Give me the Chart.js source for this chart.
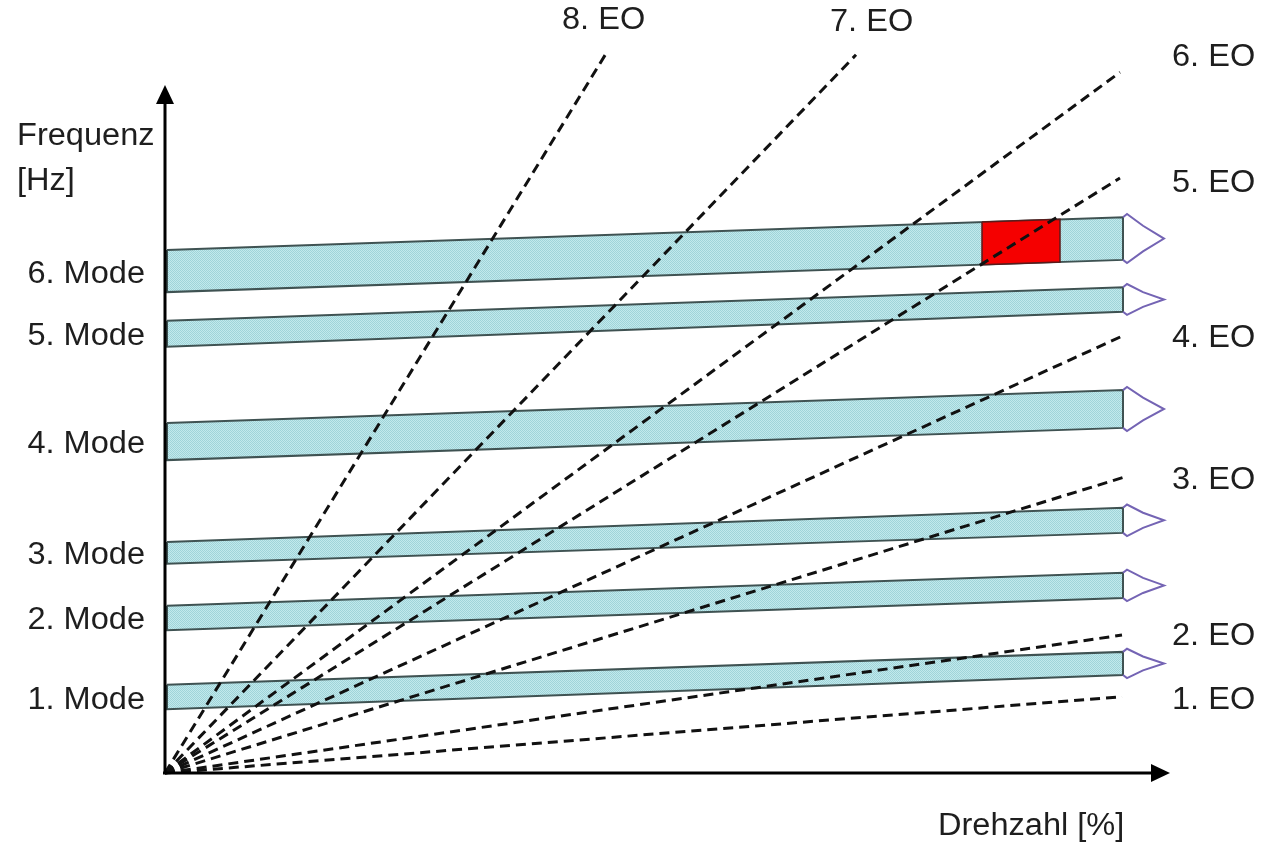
<!DOCTYPE html>
<html>
<head>
<meta charset="utf-8">
<script src="https://cdn.jsdelivr.net/npm/chart.js@4.4.0/dist/chart.umd.min.js"></script>
<style>
html, body { margin: 0; padding: 0; background: #fff; }
#wrap { width: 1262px; height: 842px; }
</style>
</head>
<body>
<div id="wrap"><canvas id="campbell" width="1262" height="842"></canvas></div>
<script>
// Eigenmoden (Bänder): Frequenz am Anfang und am Ende des Drehzahlbereichs
const modeNames = ['1. Mode', '2. Mode', '3. Mode', '4. Mode', '5. Mode', '6. Mode'];
const modeTopStart = [12.6, 23.9, 33.0, 50.0, 64.6, 74.7];
const modeTopEnd   = [17.3, 28.6, 37.9, 54.7, 69.4, 79.4];
const modeBotStart = [9.1, 20.4, 29.9, 44.7, 60.9, 68.7];
const modeBotEnd   = [14.0, 25.0, 34.3, 49.3, 65.9, 73.3];
const modeStartX = 0.2;
const modeEndX = 95.8;
const arrowTipX = 99.9;

// Erregerordnungen: Geraden vom Ursprung bis zum Endpunkt
const eoNames = ['1. EO', '2. EO', '3. EO', '4. EO', '5. EO', '6. EO', '7. EO', '8. EO'];
const eoEndX = [95.7, 95.7, 96.0, 96.0, 95.5, 95.5, 69.1, 44.2];
const eoEndY = [10.9, 19.7, 42.3, 62.6, 85.0, 100.1, 102.6, 103.0];

// Resonanzstelle (rot markiert)
const hotX = [81.7, 89.5];
const hotTop = [78.7, 79.1];
const hotBot = [72.6, 73.0];

// Achsen
const xMax = 100.5;
const yMax = 105;
const yArrowTop = 98.3;

// Beschriftungspositionen der EO (Pixel)
const eoLabelPos = [[1172, 700], [1172, 636], [1172, 480], [1172, 338], [1172, 183], [1172, 57], [830, 22], [562, 20]];

const FONT = '31px "Liberation Sans", Arial, sans-serif';
const TEXT = '#1e1e1e';
const STRETCH = 1.05;

// Punktraster für die Bänder
function makePattern() {
    const c = document.createElement('canvas');
    c.width = 2;
    c.height = 2;
    const g = c.getContext('2d');
    g.fillStyle = '#c2e9ec';
    g.fillRect(0, 0, 2, 2);
    g.fillStyle = '#9fd4d9';
    g.fillRect(0, 0, 1, 1);
    g.fillRect(1, 1, 1, 1);
    return g.createPattern(c, 'repeat');
}
const bandFill = makePattern();

const datasets = [];

// EO Linien (oben)
eoNames.forEach((name, i) => {
    datasets.push({
        label: name,
        data: [{ x: 0, y: 0 }, { x: eoEndX[i], y: eoEndY[i] }],
        borderColor: '#111',
        borderWidth: 3,
        borderDash: [10, 6],
        fill: false,
        order: 0
    });
});

// rotes Feld
datasets.push({
    label: 'Resonanz',
    data: [
        { x: hotX[0], y: hotTop[0] },
        { x: hotX[1], y: hotTop[1] },
        { x: hotX[1], y: hotBot[1] },
        { x: hotX[0], y: hotBot[0] },
        { x: hotX[0], y: hotTop[0] }
    ],
    borderColor: '#5a1a1a',
    borderWidth: 1.5,
    backgroundColor: '#f50000',
    fill: 'shape',
    order: 1
});

// Pfeilspitzen und Bänder
modeNames.forEach((name, i) => {
    const top = modeTopEnd[i];
    const bot = modeBotEnd[i];
    const mid = (top + bot) / 2;
    datasets.push({
        label: name + ' Pfeil',
        data: [
            { x: modeEndX, y: top },
            { x: modeEndX + 0.4, y: top + 0.45 },
            { x: modeEndX + 2.0, y: top - 0.4 * (top - mid) },
            { x: arrowTipX, y: mid },
            { x: modeEndX + 2.0, y: bot + 0.4 * (mid - bot) },
            { x: modeEndX + 0.4, y: bot - 0.45 },
            { x: modeEndX, y: bot }
        ],
        borderColor: '#7464b4',
        borderWidth: 2,
        fill: false,
        order: 2
    });
    datasets.push({
        label: name,
        data: [
            { x: modeStartX, y: modeTopStart[i] },
            { x: modeEndX, y: modeTopEnd[i] },
            { x: modeEndX, y: modeBotEnd[i] },
            { x: modeStartX, y: modeBotStart[i] },
            { x: modeStartX, y: modeTopStart[i] }
        ],
        borderColor: '#3f5252',
        borderWidth: 2,
        backgroundColor: bandFill,
        fill: 'shape',
        order: 3
    });
});

function drawText(ctx, text, x, y, align) {
    ctx.save();
    ctx.translate(x, y);
    ctx.scale(STRETCH, 1);
    ctx.textAlign = align;
    ctx.fillText(text, 0, 0);
    ctx.restore();
}

// Achsen mit Pfeilen und Texte
const decorPlugin = {
    id: 'decor',
    afterDatasetsDraw(chart) {
        const ctx = chart.ctx;
        const xs = chart.scales.x;
        const ys = chart.scales.y;
        const x0 = xs.getPixelForValue(0);
        const y0 = ys.getPixelForValue(0);
        const xEnd = xs.getPixelForValue(xMax);
        const yEnd = ys.getPixelForValue(yArrowTop);

        ctx.save();
        ctx.strokeStyle = '#000';
        ctx.fillStyle = '#000';
        ctx.lineWidth = 3;
        ctx.beginPath();
        ctx.moveTo(x0, y0 + 1);
        ctx.lineTo(x0, yEnd + 14);
        ctx.moveTo(x0 - 2, y0);
        ctx.lineTo(xEnd - 14, y0);
        ctx.stroke();

        ctx.beginPath();
        ctx.moveTo(x0, yEnd);
        ctx.lineTo(x0 - 9, yEnd + 19);
        ctx.lineTo(x0 + 9, yEnd + 19);
        ctx.closePath();
        ctx.fill();

        ctx.beginPath();
        ctx.moveTo(xEnd, y0);
        ctx.lineTo(xEnd - 19, y0 - 9);
        ctx.lineTo(xEnd - 19, y0 + 9);
        ctx.closePath();
        ctx.fill();

        ctx.fillStyle = TEXT;
        ctx.font = FONT;
        ctx.textBaseline = 'middle';

        modeNames.forEach((name, i) => {
            const yMid = ys.getPixelForValue((modeTopStart[i] + modeBotStart[i]) / 2) + 3;
            drawText(ctx, name, 145, yMid, 'right');
        });

        eoNames.forEach((name, i) => {
            drawText(ctx, name, eoLabelPos[i][0], eoLabelPos[i][1], 'left');
        });

        drawText(ctx, 'Frequenz', 17, 136, 'left');
        drawText(ctx, '[Hz]', 17, 181, 'left');
        drawText(ctx, 'Drehzahl [%]', 938, 826, 'left');
        ctx.restore();
    }
};

const ctx = document.getElementById('campbell').getContext('2d');
const campbellChart = new Chart(ctx, {
    type: 'line',
    data: { datasets: datasets },
    options: {
        responsive: false,
        animation: false,
        events: [],
        layout: {
            padding: { left: 165, right: 92, top: 38, bottom: 69 }
        },
        elements: {
            point: { radius: 0 },
            line: { tension: 0 }
        },
        datasets: {
            line: { clip: false }
        },
        plugins: {
            legend: { display: false },
            tooltip: { enabled: false }
        },
        scales: {
            x: { type: 'linear', min: 0, max: xMax, display: false },
            y: { type: 'linear', min: 0, max: yMax, display: false }
        }
    },
    plugins: [decorPlugin]
});
</script>
</body>
</html>
